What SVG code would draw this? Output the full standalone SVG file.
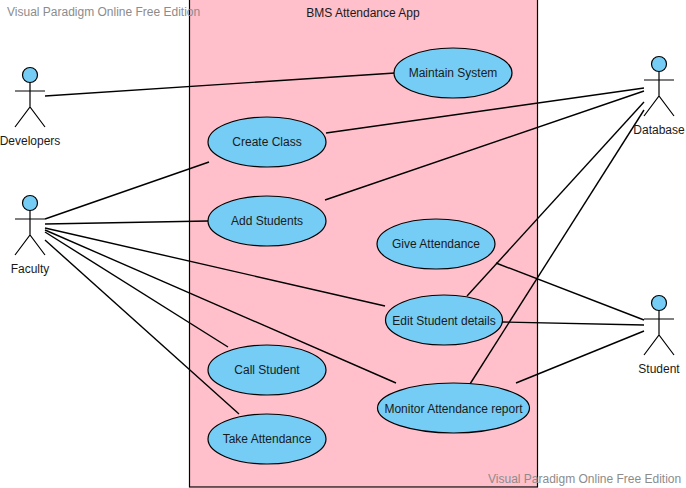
<svg xmlns="http://www.w3.org/2000/svg" width="686" height="488" viewBox="0 0 686 488">
<style>
text{font-family:"Liberation Sans",Arial,sans-serif;font-size:12px;fill:#1a1a1a;text-anchor:middle}
.wm{fill:#8c8c8c;text-anchor:start}
.uc ellipse{fill:#75cdf5;stroke:#000;stroke-width:1.2}
.head{fill:#75cdf5;stroke:#000;stroke-width:1.2}
.limbs{fill:none;stroke:#000;stroke-width:1.2}
#connectors line{stroke:#000;stroke-width:1.4}
</style>
<defs>
<g id="stick"><circle class="head" cx="0" cy="0" r="7.5"/><path class="limbs" d="M0 7.5V32M-15 16H15M-15 52L0 32L15 52"/></g>
</defs>
<rect id="system" x="189.500" y="-1" width="348" height="488" fill="#ffc0cb" stroke="#000" stroke-width="1.2"/>
<text x="363" y="17">BMS Attendance App</text>
<g id="connectors">
<line x1="45" y1="96" x2="395" y2="73"/>
<line x1="45" y1="219" x2="209" y2="162"/>
<line x1="45" y1="224" x2="208" y2="221"/>
<line x1="45" y1="228" x2="385" y2="306"/>
<line x1="45" y1="230" x2="396" y2="383"/>
<line x1="45" y1="232" x2="228" y2="347"/>
<line x1="45" y1="240" x2="239" y2="414"/>
<line x1="326" y1="133" x2="644" y2="88"/>
<line x1="325" y1="200" x2="644" y2="91"/>
<line x1="467" y1="296" x2="644" y2="102"/>
<line x1="470" y1="384" x2="644" y2="110"/>
<line x1="496" y1="263" x2="644" y2="320"/>
<line x1="502" y1="322" x2="644" y2="325"/>
<line x1="516" y1="383" x2="644" y2="331"/>
</g>
<g id="uc-maintain" class="uc"><ellipse cx="453" cy="73" rx="59" ry="25"/><text x="453" y="77">Maintain System</text></g>
<g id="uc-create" class="uc"><ellipse cx="267" cy="142" rx="59" ry="25"/><text x="267" y="146">Create Class</text></g>
<g id="uc-add" class="uc"><ellipse cx="267" cy="221" rx="59" ry="25"/><text x="267" y="225">Add Students</text></g>
<g id="uc-give" class="uc"><ellipse cx="436" cy="244" rx="59" ry="25"/><text x="436" y="248">Give Attendance</text></g>
<g id="uc-edit" class="uc"><ellipse cx="444" cy="320" rx="58.500" ry="25"/><text x="444" y="325">Edit Student details</text></g>
<g id="uc-call" class="uc"><ellipse cx="267" cy="370" rx="59" ry="25"/><text x="267" y="374">Call Student</text></g>
<g id="uc-take" class="uc"><ellipse cx="267" cy="439" rx="59" ry="25"/><text x="267" y="443">Take Attendance</text></g>
<g id="uc-monitor" class="uc"><ellipse cx="453.500" cy="408" rx="76" ry="25"/><text x="453.500" y="413">Monitor Attendance report</text></g>
<g id="actor-developers"><use href="#stick" x="30" y="75"/><text x="30" y="145">Developers</text></g>
<g id="actor-faculty"><use href="#stick" x="30" y="203"/><text x="30" y="273">Faculty</text></g>
<g id="actor-database"><use href="#stick" x="659" y="64"/><text x="659" y="134">Database</text></g>
<g id="actor-student"><use href="#stick" x="659" y="303"/><text x="659" y="373">Student</text></g>
<text class="wm" x="7" y="16">Visual Paradigm Online Free Edition</text>
<text class="wm" x="488" y="483">Visual Paradigm Online Free Edition</text>
</svg>
